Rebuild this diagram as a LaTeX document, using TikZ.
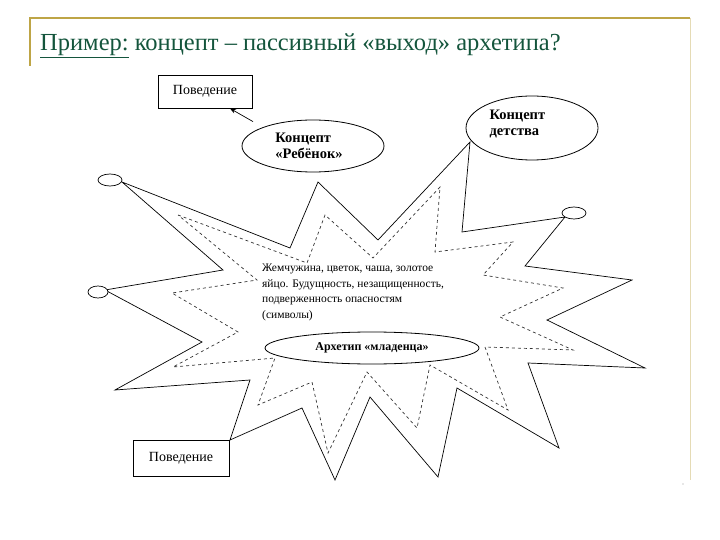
\documentclass[tikz,border=0pt]{standalone}
\usepackage{fontspec}
\setmainfont{Liberation Serif}
\usetikzlibrary{arrows.meta,shapes.geometric}
\definecolor{gold}{RGB}{190,165,70}
\definecolor{ttl}{RGB}{20,85,60}
\begin{document}
\begin{tikzpicture}[x=1pt,y=-1pt,
  star/.style={draw=black,line width=0.7pt,line join=miter},
  dstar/.style={draw=black!80,dashed,line width=0.7pt},
  ell/.style={draw,ellipse,line width=0.8pt},
  box/.style={draw,line width=0.9pt,minimum width=94pt,minimum height=33pt,font=\fontsize{14}{16}\selectfont},
  lbl/.style={font=\bfseries\fontsize{14.5}{16}\selectfont,align=left}]
\useasboundingbox (0,0) rectangle (720,540);
\draw[gold,line width=1.3pt] (30,66) -- (30,18) -- (690,18);
\draw[gold!40,line width=0.6pt] (690,18) -- (690,480);
\node[anchor=base west,text=ttl,font=\fontsize{24.5}{27}\selectfont,inner sep=0] (title) at (40,51) {\underline{Пример:} концепт – пассивный «выход» архетипа?};
% outer star
\draw[star] (122,182) -- (290,248) -- (318,182) -- (378,240) -- (470,142) -- (462,232) -- (565,217)
 -- (525,266) -- (632,280) -- (547,320) -- (645,368) -- (528,363) -- (559,448) -- (457,388)
 -- (438,477) -- (370,397) -- (335,480) -- (302,408) -- (230,440) -- (250,380) -- (115,390)
 -- (202,342) -- (105,290) -- (223,270) -- cycle;
% inner dashed star
\draw[dstar] (178,215) -- (307,263) -- (325,215) -- (373,258) -- (440,187) -- (435,252) -- (513,242)
 -- (483,275) -- (563,288) -- (500,317) -- (573,350) -- (485,347) -- (508,410) -- (430,365)
 -- (417,428) -- (367,372) -- (328,453) -- (312,382) -- (258,405) -- (275,358) -- (173,367)
 -- (238,332) -- (172,293) -- (257,280) -- cycle;
% small ellipses
\draw[fill=white,line width=0.7pt] (110,180) ellipse (12 and 6);
\draw[fill=white,line width=0.7pt] (98,292) ellipse (10 and 6);
\draw[fill=white,line width=0.7pt] (574,213) ellipse (12 and 6);
% main ellipses
\node[ell,fill=white,minimum width=142pt,minimum height=52pt] (reb) at (313,146) {};
\node[lbl] at (309,146) {Концепт\\«Ребёнок»};
\node[ell,fill=white,minimum width=132pt,minimum height=64pt] (det) at (532,128) {};
\node[lbl,anchor=north west] at (486,106) {Концепт\\детства};
\node[ell,fill=white,minimum width=214pt,minimum height=32pt,font=\bfseries\fontsize{12}{13}\selectfont] (arch) at (372,348) {Архетип «младенца»};
% boxes
\node[box,fill=white] (beh1) at (205,91.5) {Поведение};
\node[box,fill=white,minimum width=96pt,minimum height=36pt] (beh2) at (181,458) {Поведение};
\draw[-{Stealth[length=6pt]},line width=0.7pt] ([xshift=-60pt,yshift=-2pt]reb.north) -- ([xshift=25pt]beh1.south);
\node[anchor=north west,align=left,font=\fontsize{11.5}{15.5}\selectfont,inner sep=0] (sym) at (262,264)
 {Жемчужина, цветок, чаша, золотое\\яйцо. Будущность, незащищенность,\\подверженность опасностям\\(символы)};
\fill[black!40] (683,484) circle (0.7);
\end{tikzpicture}
\end{document}
